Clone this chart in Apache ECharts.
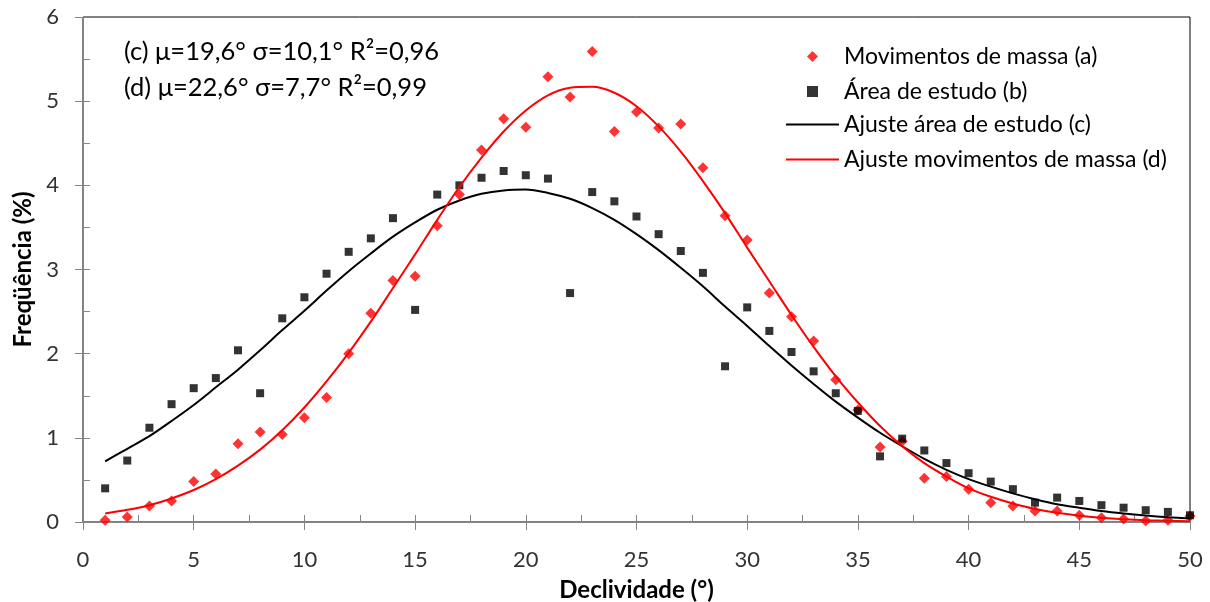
<!DOCTYPE html>
<html>
<head>
<meta charset="utf-8">
<script src="https://cdn.jsdelivr.net/npm/echarts@6/dist/echarts.min.js"></script>
<style>
    html, body { margin: 0; padding: 0; background: #fff; }
    #chart { width: 1210px; height: 602px; }
</style>
</head>
<body>
<div id="chart"></div>
<script>
const slopes = [1, 2, 3, 4, 5, 6, 7, 8, 9, 10, 11, 12, 13, 14, 15, 16, 17, 18, 19, 20, 21, 22, 23, 24, 25,
    26, 27, 28, 29, 30, 31, 32, 33, 34, 35, 36, 37, 38, 39, 40, 41, 42, 43, 44, 45, 46, 47, 48, 49, 50];

// Movimentos de massa (a)
const massMovements = [0.02, 0.06, 0.19, 0.25, 0.48, 0.57, 0.93, 1.07, 1.04, 1.24, 1.48, 2.0, 2.48, 2.87, 2.92,
    3.52, 3.89, 4.42, 4.79, 4.69, 5.29, 5.05, 5.59, 4.64, 4.87, 4.68, 4.73, 4.21, 3.64, 3.35, 2.72, 2.44, 2.15,
    1.69, 1.33, 0.89, 0.96, 0.52, 0.54, 0.39, 0.23, 0.19, 0.13, 0.13, 0.08, 0.05, 0.035, 0.015, 0.02, 0.07];

// Área de estudo (b)
const studyArea = [0.40, 0.73, 1.12, 1.40, 1.59, 1.71, 2.04, 1.53, 2.42, 2.67, 2.95, 3.21, 3.37, 3.61, 2.52,
    3.89, 4.0, 4.09, 4.17, 4.12, 4.08, 2.72, 3.92, 3.81, 3.63, 3.42, 3.22, 2.96, 1.85, 2.55, 2.27, 2.02, 1.79,
    1.53, 1.32, 0.78, 0.99, 0.85, 0.70, 0.58, 0.48, 0.39, 0.23, 0.29, 0.25, 0.20, 0.17, 0.14, 0.12, 0.08];

// Ajuste área de estudo (c)
const fitStudyArea = [0.72, 0.87, 1.02, 1.20, 1.39, 1.60, 1.81, 2.04, 2.28, 2.51, 2.75, 2.98, 3.19, 3.39, 3.56,
    3.71, 3.82, 3.90, 3.94, 3.95, 3.91, 3.84, 3.73, 3.59, 3.42, 3.23, 3.02, 2.80, 2.56, 2.33, 2.09, 1.86, 1.64,
    1.43, 1.24, 1.06, 0.90, 0.75, 0.62, 0.51, 0.42, 0.34, 0.27, 0.21, 0.17, 0.13, 0.10, 0.076, 0.057, 0.043];

// Ajuste movimentos de massa (d)
const fitMassMovements = [0.10, 0.145, 0.20, 0.28, 0.38, 0.51, 0.67, 0.86, 1.09, 1.36, 1.67, 2.01, 2.38, 2.78,
    3.18, 3.59, 3.98, 4.33, 4.64, 4.89, 5.07, 5.16, 5.17, 5.10, 4.94, 4.70, 4.40, 4.05, 3.67, 3.26, 2.86, 2.46,
    2.08, 1.73, 1.42, 1.14, 0.90, 0.70, 0.54, 0.40, 0.30, 0.22, 0.155, 0.11, 0.075, 0.051, 0.034, 0.022, 0.015, 0.009];

const annotations = [
    "(c) μ=19,6° σ=10,1° R²=0,96",
    "(d) μ=22,6° σ=7,7° R²=0,99"
];

const FONT = "Lato, 'Open Sans', sans-serif";

function pairs(values) {
    return slopes.map((x, i) => [x, values[i]]);
}

const chart = echarts.init(document.getElementById("chart"));

const axisLineStyle = { color: "#868686", width: 1 };
const legendText = { fontFamily: FONT, fontSize: 23, color: "#000", lineHeight: 22 };

chart.setOption({
    animation: false,
    backgroundColor: "#fff",
    textStyle: { fontFamily: FONT },
    grid: {
        left: 83,
        right: 20,
        top: 17,
        bottom: 80,
        outerBoundsMode: "none",
        containLabel: false,
        show: true,
        borderColor: "#000",
        borderWidth: 1
    },
    legend: [
        {
            // markers
            orient: "vertical",
            left: 802,
            top: 40,
            itemWidth: 11,
            itemHeight: 11,
            itemGap: 12,
            textStyle: Object.assign({ padding: [0, 0, 0, 21] }, legendText),
            data: [
                { name: "Movimentos de massa (a)", icon: "diamond" },
                { name: "Área de estudo (b)", icon: "rect" }
            ]
        },
        {
            // fitted lines
            orient: "vertical",
            left: 781,
            top: 108,
            itemWidth: 53,
            itemHeight: 2,
            itemGap: 12,
            textStyle: legendText,
            data: [
                { name: "Ajuste área de estudo (c)", icon: "path://M0,0 H53 V2 H0 Z" },
                { name: "Ajuste movimentos de massa (d)", icon: "path://M0,0 H53 V2 H0 Z" }
            ]
        }
    ],
    graphic: annotations.map((t, i) => ({
        type: "text",
        x: 124,
        y: 52 + i * 36,
        style: { text: t, font: "25.5px " + FONT, fill: "#000", verticalAlign: "middle" }
    })),
    xAxis: [
        {
            type: "value",
            min: 0,
            max: 50,
            interval: 5,
            name: "Declividade (°)",
            nameLocation: "middle",
            nameGap: 56,
            nameTextStyle: { fontFamily: FONT, fontSize: 24, fontWeight: "bold", color: "#000" },
            axisLine: { show: true, onZero: false, lineStyle: axisLineStyle },
            axisTick: { show: true, inside: true, length: 7, lineStyle: axisLineStyle },
            minorTick: { show: true, splitNumber: 2, length: 7, lineStyle: axisLineStyle },
            axisLabel: { fontFamily: FONT, fontSize: 22, color: "#333", margin: 27 },
            splitLine: { show: false }
        },
        {
            type: "value",
            position: "bottom",
            min: 0,
            max: 50,
            interval: 5,
            axisLine: { show: false, onZero: false },
            axisTick: { show: true, inside: false, length: 8, lineStyle: axisLineStyle },
            axisLabel: { show: false },
            splitLine: { show: false }
        }
    ],
    yAxis: [
        {
            type: "value",
            min: 0,
            max: 6,
            interval: 1,
            name: "Freqüência (%)",
            nameLocation: "middle",
            nameGap: 48,
            nameTextStyle: { fontFamily: FONT, fontSize: 24, fontWeight: "bold", color: "#000" },
            axisLine: { show: true, onZero: false, lineStyle: axisLineStyle },
            axisTick: { show: true, inside: true, length: 7, lineStyle: axisLineStyle },
            minorTick: { show: true, splitNumber: 2, length: 7, lineStyle: axisLineStyle },
            axisLabel: { fontFamily: FONT, fontSize: 22, color: "#333", margin: 24 },
            splitLine: { show: false }
        },
        {
            type: "value",
            position: "left",
            min: 0,
            max: 6,
            interval: 1,
            axisLine: { show: false, onZero: false },
            axisTick: { show: true, inside: false, length: 8, lineStyle: axisLineStyle },
            axisLabel: { show: false },
            splitLine: { show: false }
        }
    ],
    series: [
        {
            name: "Movimentos de massa (a)",
            type: "scatter",
            symbol: "diamond",
            symbolSize: 11,
            itemStyle: { color: "#ff0000" },
            data: pairs(massMovements)
        },
        {
            name: "Área de estudo (b)",
            type: "scatter",
            symbol: "rect",
            symbolSize: 8,
            itemStyle: { color: "#000" },
            data: pairs(studyArea)
        },
        {
            name: "Ajuste área de estudo (c)",
            type: "line",
            smooth: 0.3,
            symbol: "none",
            lineStyle: { color: "#000", width: 2 },
            itemStyle: { color: "#000" },
            data: pairs(fitStudyArea)
        },
        {
            name: "Ajuste movimentos de massa (d)",
            type: "line",
            smooth: 0.3,
            symbol: "none",
            lineStyle: { color: "#ff0000", width: 2 },
            itemStyle: { color: "#ff0000" },
            data: pairs(fitMassMovements)
        }
    ]
});
</script>
</body>
</html>
